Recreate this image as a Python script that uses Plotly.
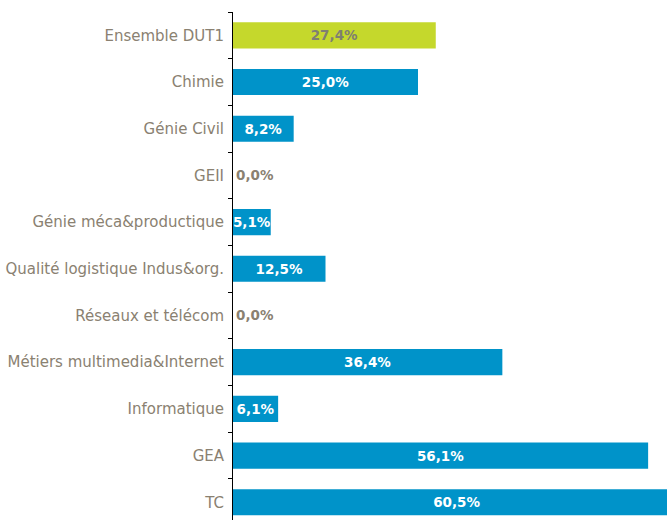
import plotly.graph_objects as go

# Data
categories = [
    "Ensemble DUT1", "Chimie", "Génie Civil", "GEII", "Génie méca&productique",
    "Qualité logistique Indus&org.", "Réseaux et télécom", "Métiers multimedia&Internet",
    "Informatique", "GEA", "TC",
]
values = [27.4, 25.0, 8.2, 0.0, 5.1, 12.5, 0.0, 36.4, 6.1, 56.1, 60.5]

label_color = '#8a8171'
blue = '#0093c9'
green = '#c5d82c'

bar_colors = [green if c == "Ensemble DUT1" else blue for c in categories]
text_colors = []
text_positions = []
for c, v in zip(categories, values):
    if v == 0:
        text_positions.append('outside')
        text_colors.append(label_color)
    elif c == "Ensemble DUT1":
        text_positions.append('inside')
        text_colors.append('#7f7f72')
    else:
        text_positions.append('inside')
        text_colors.append('#ffffff')

fig = go.Figure()
fig.add_trace(go.Bar(
    x=values,
    y=categories,
    orientation='h',
    width=0.56,
    marker=dict(color=bar_colors, line=dict(width=0)),
    texttemplate='%{x:.1f}%',
    textposition=text_positions,
    insidetextanchor='middle',
    textangle=0,
    constraintext='none',
    cliponaxis=True,
    textfont=dict(family='DejaVu Sans', size=13.5, color=text_colors, weight='bold'),
    hoverinfo='skip',
))

fig.update_layout(
    width=667, height=520,
    margin=dict(l=233, r=0, t=12, b=0),
    paper_bgcolor='white',
    plot_bgcolor='white',
    separators=', ',
    showlegend=False,
    xaxis=dict(
        range=[0, 58.65],
        visible=False,
        showgrid=False,
        zeroline=False,
    ),
    yaxis=dict(
        type='category',
        categoryorder='array',
        categoryarray=categories,
        range=[10.38, -0.5],
        showline=True,
        linecolor='black',
        linewidth=1,
        ticks='outside',
        tickson='boundaries',
        ticklen=4,
        tickcolor='black',
        ticklabelstandoff=5,
        showgrid=False,
        tickfont=dict(family='DejaVu Sans', size=15, color=label_color),
        automargin=False,
    ),
)

# drop the default page margin so the figure sits at the window's corner
fig.write_html(
    "out.html",
    config={'displayModeBar': False},
    post_script="document.body.style.margin='0';",
)
